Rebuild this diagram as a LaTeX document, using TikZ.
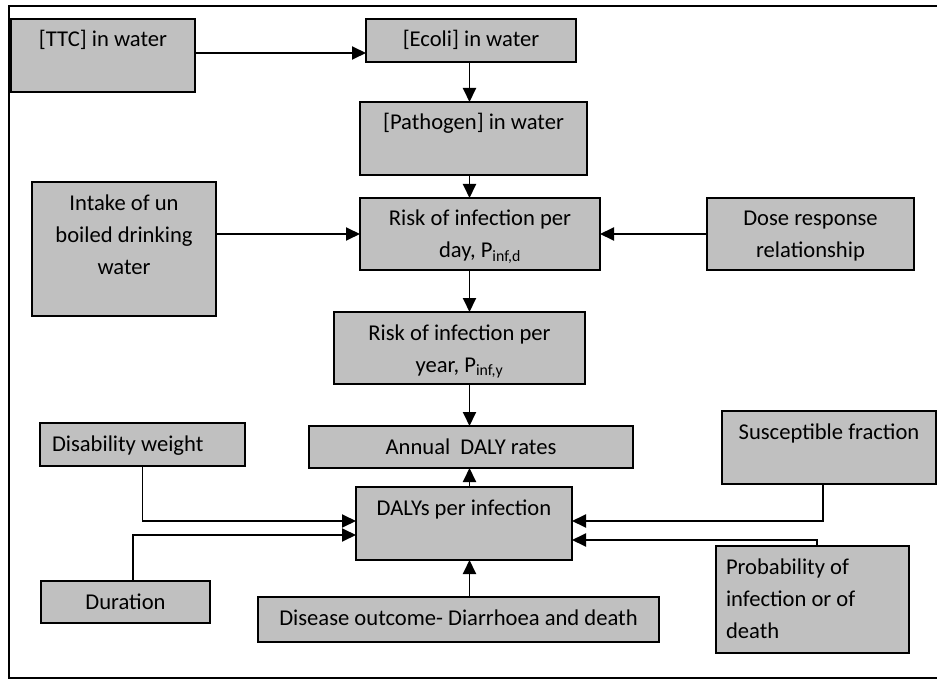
\documentclass[tikz,border=0pt]{standalone}
\usepackage{fontspec}
\setmainfont{Carlito}
\usetikzlibrary{arrows.meta}
\definecolor{boxgray}{RGB}{192,192,192}
\newcommand\bxt[4]{\parbox[c][#2][t]{#1}{#3\rule{0pt}{28pt}#4}}
\tikzset{
  box/.style={draw, fill=boxgray, line width=1.9pt, inner sep=0pt, outer sep=0pt, anchor=north west},
  arr/.style={line width=1.9pt, -{Triangle[length=14pt,width=13pt]}},
}
\begin{document}
\begin{tikzpicture}[x=1pt,y=-1pt, font=\fontsize{22.6}{32}\selectfont]
\useasboundingbox (0,0) rectangle (937,679);
\draw[line width=1.4pt] (937,6) -- (9,6) -- (9,678) -- (937,678);

\node[box] (ttc) at (11,19) {\bxt{184pt}{73pt}{\centering}{[TTC] in water}};
\node[box] (ecoli) at (366,19) {\bxt{210pt}{43pt}{\centering}{[Ecoli] in water}};
\node[box] (pathogen) at (360,102) {\bxt{227pt}{73pt}{\centering}{[Pathogen] in water}};
\node[box] (riskday) at (360,198) {\bxt{240pt}{72pt}{\centering}{Risk of infection per\\ day, P\textsubscript{inf,d}}};
\node[box] (intake) at (32,182) {\bxt{184pt}{134pt}{\centering}{Intake of un\\ boiled drinking\\ water}};
\node[box] (dose) at (707,198) {\bxt{207pt}{72pt}{\centering}{Dose response\\ relationship}};
\node[box] (riskyear) at (334,312) {\bxt{251pt}{72pt}{\centering}{Risk of infection per\\ year, P\textsubscript{inf,y}}};
\node[box] (annual) at (309,426) {\bxt{324pt}{42pt}{\centering}{Annual~~DALY rates}};
\node[box] (dalys) at (356,487) {\bxt{216pt}{73pt}{\centering}{DALYs per infection}};
\node[box] (disab) at (40,423) {\bxt{205pt}{43pt}{\raggedright\leftskip=12pt}{Disability weight}};
\node[box] (duration) at (41,581) {\bxt{169pt}{42pt}{\centering}{Duration}};
\node[box] (disease) at (258,597) {\bxt{401pt}{45pt}{\centering}{Disease outcome- Diarrhoea and death}};
\node[box] (susc) at (722,411) {\bxt{214pt}{73pt}{\centering}{Susceptible fraction}};
\node[box] (prob) at (716,546) {\bxt{193pt}{107pt}{\raggedright\leftskip=10pt}{Probability of\\ infection or of\\ death}};

\draw[arr] ([yshift=2.5pt]ttc.east) -- ([yshift=2.5pt]ttc.east -| ecoli.west);
\draw[arr] ([xshift=-1.5pt]ecoli.south) -- ([xshift=-1.5pt]ecoli.south |- pathogen.north);
\draw[arr] ([xshift=-1.5pt]ecoli.south |- pathogen.south) -- ([xshift=-1.5pt]ecoli.south |- riskday.north);
\draw[arr] ([xshift=-1.5pt]ecoli.south |- riskday.south) -- ([xshift=-1.5pt]ecoli.south |- riskyear.north);
\draw[arr] ([xshift=-1.5pt]ecoli.south |- riskyear.south) -- ([xshift=-1.5pt]ecoli.south |- annual.north);
\draw[arr] ([xshift=-1.5pt]ecoli.south |- dalys.north) -- ([xshift=-1.5pt]ecoli.south |- annual.south);
\draw[arr] ([xshift=-1.5pt]ecoli.south |- disease.north) -- ([xshift=-1.5pt]ecoli.south |- dalys.south);
\draw[arr] (intake.east |- riskday.west) -- (riskday.west);
\draw[arr] (dose.west) -- (riskday.east);
\draw[arr] (disab.south) |- ([yshift=2.5pt]dalys.west);
\draw[arr] ([xshift=7.5pt]duration.north) |- ([yshift=-11.5pt]dalys.west);
\draw[arr] ([xshift=-6pt]susc.south) |- ([yshift=2.5pt]dalys.east);
\draw[arr] ([xshift=4.5pt]prob.north) |- ([yshift=-16.5pt]dalys.east);
\end{tikzpicture}
\end{document}
